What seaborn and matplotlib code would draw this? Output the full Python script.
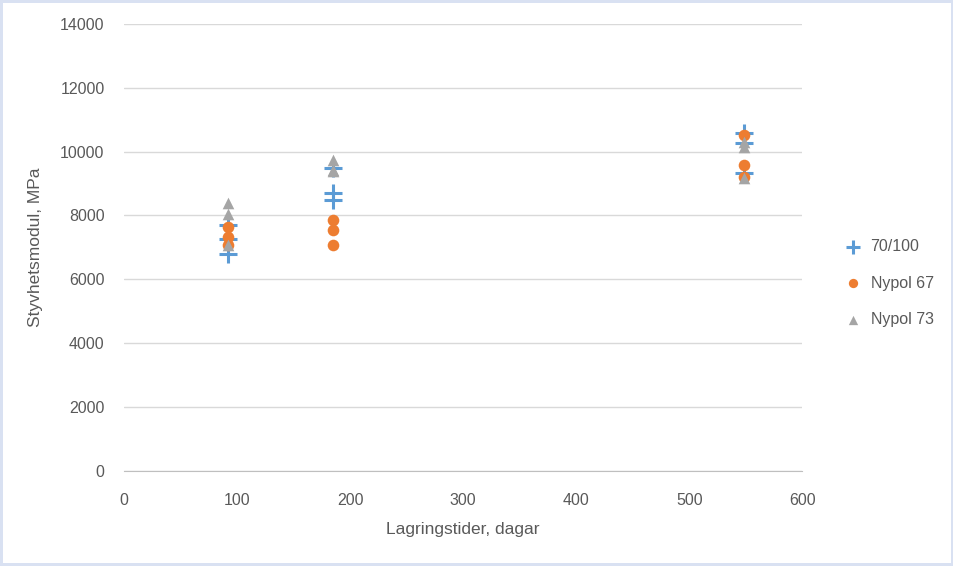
import matplotlib
matplotlib.use("Agg")
import matplotlib.pyplot as plt
import seaborn as sns
import pandas as pd

days_a = [92, 92, 92, 185, 185, 185, 548, 548, 548]
mod_70 = [7700, 7260, 6780, 9490, 8700, 8490, 10590, 10270, 9330]
mod_n67 = [7640, 7330, 7080, 7860, 7550, 7080, 10520, 9580, 9210]
mod_n73 = [8390, 8050, 7080, 9740, 9430, 9400, 10300, 10150, 9180]

df = pd.concat([
    pd.DataFrame({"x": days_a, "y": mod_70, "s": "70/100"}),
    pd.DataFrame({"x": days_a, "y": mod_n67, "s": "Nypol 67"}),
    pd.DataFrame({"x": days_a, "y": mod_n73, "s": "Nypol 73"}),
])

sns.set_style("white")
plt.rcParams["font.family"] = "Liberation Sans"
fig = plt.figure(figsize=(9.54, 5.66), dpi=100)
fig.patch.set_facecolor("white")
fig.patch.set_edgecolor("#d9e1f2")
fig.patch.set_linewidth(4)
ax = fig.add_axes([0.13, 0.168, 0.711, 0.79])

styles = {"70/100": ("#5b9bd5", "+", 180), "Nypol 67": ("#ed7d31", "o", 70), "Nypol 73": ("#a5a5a5", "^", 70)}
for name in ["70/100", "Nypol 67", "Nypol 73"]:
    c, m, s = styles[name]
    sub = df[df.s == name]
    sns.scatterplot(x=sub.x, y=sub.y, ax=ax, color=c, marker=m, s=s,
                    linewidth=2.2 if m == "+" else 0, label=name, zorder=3)

ax.set_xlim(0, 600)
ax.set_ylim(0, 14000)
ax.set_xticks(range(0, 601, 100))
ax.set_yticks(range(0, 14001, 2000))
ax.grid(axis="y", color="#d9d9d9", linewidth=1)
for sp in ["top", "right", "left"]:
    ax.spines[sp].set_visible(False)
ax.spines["bottom"].set_color("#bfbfbf")
ax.tick_params(colors="#595959", labelsize=11.5, length=0)
ax.tick_params(axis="x", length=0, pad=16)
ax.tick_params(axis="y", pad=14)
ax.set_xlabel("Lagringstider, dagar", fontsize=12.5, color="#595959", labelpad=10)
ax.set_ylabel("Styvhetsmodul, MPa", fontsize=12.5, color="#595959", labelpad=12)
leg = ax.legend(loc="center left", bbox_to_anchor=(1.03, 0.42), frameon=False,
                fontsize=11.5, handletextpad=0.1, labelspacing=1.35, markerscale=0.8)
for t in leg.get_texts():
    t.set_color("#595959")
fig.savefig("out.png", dpi=100, facecolor=fig.get_facecolor(), edgecolor=fig.get_edgecolor())
